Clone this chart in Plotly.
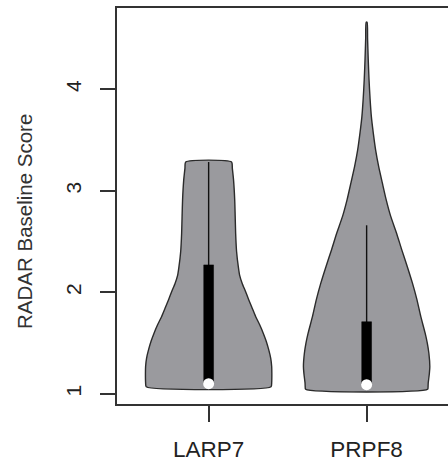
import plotly.graph_objects as go

categories = ["LARP7", "PRPF8"]
positions = [1, 2]

# Violin outline profiles: score levels and half-widths (x units)
larp7_levels = [1.07, 1.11, 1.20, 1.27, 1.35, 1.43, 1.52, 1.60, 1.68, 1.76, 1.85, 1.93, 2.01, 2.09, 2.17, 2.25, 2.40, 2.58, 2.75, 2.91, 3.10, 3.22, 3.283]
larp7_half = [0.395, 0.399, 0.400, 0.399, 0.393, 0.381, 0.364, 0.345, 0.323, 0.298, 0.274, 0.253, 0.233, 0.212, 0.196, 0.188, 0.177, 0.171, 0.168, 0.165, 0.158, 0.150, 0.145]

prpf8_levels = [1.045, 1.08, 1.11, 1.20, 1.27, 1.40, 1.50, 1.60, 1.76, 1.93, 2.09, 2.25, 2.42, 2.58, 2.75, 2.91, 3.08, 3.24, 3.40, 3.57, 3.73, 3.90, 4.10, 4.30, 4.50, 4.66]
prpf8_half = [0.386, 0.389, 0.390, 0.397, 0.400, 0.394, 0.384, 0.370, 0.343, 0.318, 0.290, 0.258, 0.222, 0.190, 0.152, 0.124, 0.099, 0.076, 0.057, 0.042, 0.030, 0.022, 0.015, 0.010, 0.006, 0.003]

# Box statistics
q1 = [1.10, 1.10]
q3 = [2.27, 1.71]
medians = [1.10, 1.09]
whisker_low = [1.07, 1.045]
whisker_high = [3.283, 2.66]

y_ticks = [1, 2, 3, 4]

fill_col = "#9a9a9e"
edge_col = "#2b2b2b"
box_half = 0.031

fig = go.Figure()

profiles = [(larp7_levels, larp7_half), (prpf8_levels, prpf8_half)]
for pos, (lv, hw) in zip(positions, profiles):
    xs = [pos - h for h in hw] + [pos + h for h in reversed(hw)] + [pos - hw[0]]
    ys = list(lv) + list(reversed(lv)) + [lv[0]]
    fig.add_trace(go.Scatter(x=xs, y=ys, mode="lines", fill="toself",
                             fillcolor=fill_col,
                             line=dict(color=edge_col, width=1.4, shape="spline", smoothing=0.6),
                             hoverinfo="skip", showlegend=False))

for i, pos in enumerate(positions):
    # whisker
    fig.add_trace(go.Scatter(x=[pos, pos], y=[whisker_low[i], whisker_high[i]], mode="lines",
                             line=dict(color="#111111", width=1.4),
                             hoverinfo="skip", showlegend=False))
    # box
    fig.add_trace(go.Scatter(x=[pos - box_half, pos + box_half, pos + box_half, pos - box_half, pos - box_half],
                             y=[q1[i], q1[i], q3[i], q3[i], q1[i]], mode="lines", fill="toself",
                             fillcolor="#000000", line=dict(color="#000000", width=0.5),
                             hoverinfo="skip", showlegend=False))

fig.add_trace(go.Scatter(x=positions, y=medians, mode="markers",
                         marker=dict(color="white", size=11, line=dict(width=0)),
                         hoverinfo="skip", showlegend=False))

W, H = 448, 461
L, R, T, B = 117, 0, 8, 57
fig.update_layout(
    width=W, height=H,
    margin=dict(l=L, r=R, t=T, b=B, pad=0, autoexpand=False),
    plot_bgcolor="white", paper_bgcolor="white",
    font=dict(family="Liberation Sans, Arial, sans-serif", color="#222222"),
    hovermode=False,
    xaxis=dict(range=[0.42, 2.515], tickvals=positions, ticktext=categories, automargin=False,
               showgrid=False, zeroline=False, showline=True, mirror=True,
               linecolor="#333333", linewidth=1.5,
               ticks="outside", ticklen=16, tickwidth=1.5, tickcolor="#333333",
               tickfont=dict(size=22.5, color="#222222"), ticklabelstandoff=8),
    yaxis=dict(range=[0.90, 4.80], tickvals=y_ticks, automargin=False,
               showgrid=False, zeroline=False, showline=True, mirror=False,
               linecolor="#333333", linewidth=1.5,
               ticks="outside", ticklen=15, tickwidth=1.5, tickcolor="#333333",
               tickangle=-90, tickfont=dict(size=21, color="#222222"), ticklabelstandoff=11),
    annotations=[dict(text="RADAR Baseline Score", xref="paper", yref="paper",
                      x=(24 - L) / (W - L - R), y=(H - B - 222) / (H - T - B),
                      textangle=-90, showarrow=False, xanchor="center", yanchor="middle",
                      font=dict(size=20.5, color="#333333"))],
)

fig.write_html("out.html", config={"displayModeBar": False},
               post_script="document.body.style.margin='0';document.body.style.overflow='hidden';")
